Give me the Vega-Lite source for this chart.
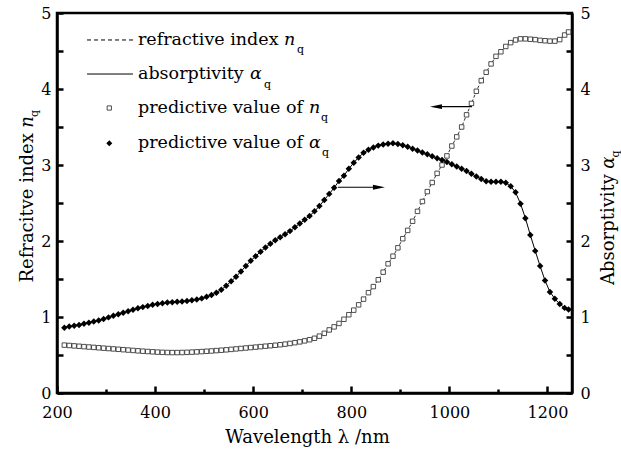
{
  "$schema": "https://vega.github.io/schema/vega-lite/v6.json",
  "width": 515,
  "height": 380,
  "autosize": "none",
  "padding": {"left": 57, "top": 13, "right": 49, "bottom": 56},
  "background": "white",
  "config": {
    "view": {"stroke": "black", "strokeWidth": 2.5},
    "font": "DejaVu Serif",
    "axis": {
      "grid": false,
      "domainColor": "black",
      "domainWidth": 2.5,
      "tickColor": "black",
      "tickWidth": 2.5,
      "labelColor": "black",
      "labelFont": "DejaVu Serif",
      "labelFontSize": 16,
      "labelOverlap": false,
      "labelFlush": false,
      "titleFont": "DejaVu Serif",
      "titleFontWeight": "normal",
      "titleColor": "black"
    }
  },
  "datasets": {
    "n": [
      {"wl": 215, "n": 0.63}, {"wl": 225, "n": 0.625}, {"wl": 235, "n": 0.62}, {"wl": 245, "n": 0.615},
      {"wl": 255, "n": 0.61}, {"wl": 265, "n": 0.605}, {"wl": 275, "n": 0.6}, {"wl": 285, "n": 0.595},
      {"wl": 295, "n": 0.59}, {"wl": 305, "n": 0.585}, {"wl": 315, "n": 0.58}, {"wl": 325, "n": 0.575},
      {"wl": 335, "n": 0.57}, {"wl": 345, "n": 0.565}, {"wl": 355, "n": 0.56}, {"wl": 365, "n": 0.555},
      {"wl": 375, "n": 0.55}, {"wl": 385, "n": 0.546}, {"wl": 395, "n": 0.542}, {"wl": 405, "n": 0.538},
      {"wl": 415, "n": 0.535}, {"wl": 425, "n": 0.533}, {"wl": 435, "n": 0.532}, {"wl": 445, "n": 0.532},
      {"wl": 455, "n": 0.533}, {"wl": 465, "n": 0.535}, {"wl": 475, "n": 0.538}, {"wl": 485, "n": 0.541},
      {"wl": 495, "n": 0.545}, {"wl": 505, "n": 0.549}, {"wl": 515, "n": 0.553}, {"wl": 525, "n": 0.558},
      {"wl": 535, "n": 0.563}, {"wl": 545, "n": 0.568}, {"wl": 555, "n": 0.574}, {"wl": 565, "n": 0.58},
      {"wl": 575, "n": 0.586}, {"wl": 585, "n": 0.592}, {"wl": 595, "n": 0.598}, {"wl": 605, "n": 0.604},
      {"wl": 615, "n": 0.61}, {"wl": 625, "n": 0.616}, {"wl": 635, "n": 0.622}, {"wl": 645, "n": 0.628},
      {"wl": 655, "n": 0.635}, {"wl": 665, "n": 0.643}, {"wl": 675, "n": 0.652}, {"wl": 685, "n": 0.662},
      {"wl": 695, "n": 0.673}, {"wl": 705, "n": 0.686}, {"wl": 715, "n": 0.701}, {"wl": 725, "n": 0.72},
      {"wl": 735, "n": 0.748}, {"wl": 745, "n": 0.785}, {"wl": 755, "n": 0.83}, {"wl": 765, "n": 0.87},
      {"wl": 775, "n": 0.915}, {"wl": 785, "n": 0.97}, {"wl": 795, "n": 1.03}, {"wl": 805, "n": 1.09},
      {"wl": 815, "n": 1.16}, {"wl": 825, "n": 1.235}, {"wl": 835, "n": 1.32}, {"wl": 845, "n": 1.4},
      {"wl": 855, "n": 1.49}, {"wl": 865, "n": 1.59}, {"wl": 875, "n": 1.7}, {"wl": 885, "n": 1.8},
      {"wl": 895, "n": 1.91}, {"wl": 905, "n": 2.03}, {"wl": 915, "n": 2.14}, {"wl": 925, "n": 2.26},
      {"wl": 935, "n": 2.39}, {"wl": 945, "n": 2.52}, {"wl": 955, "n": 2.65}, {"wl": 965, "n": 2.77},
      {"wl": 975, "n": 2.89}, {"wl": 985, "n": 3.0}, {"wl": 995, "n": 3.12}, {"wl": 1005, "n": 3.25},
      {"wl": 1015, "n": 3.37}, {"wl": 1025, "n": 3.5}, {"wl": 1035, "n": 3.66}, {"wl": 1045, "n": 3.81},
      {"wl": 1055, "n": 3.97}, {"wl": 1065, "n": 4.11}, {"wl": 1075, "n": 4.22}, {"wl": 1085, "n": 4.33},
      {"wl": 1095, "n": 4.43}, {"wl": 1105, "n": 4.49}, {"wl": 1115, "n": 4.56}, {"wl": 1125, "n": 4.61},
      {"wl": 1135, "n": 4.645}, {"wl": 1145, "n": 4.66}, {"wl": 1155, "n": 4.66}, {"wl": 1165, "n": 4.655},
      {"wl": 1175, "n": 4.65}, {"wl": 1185, "n": 4.64}, {"wl": 1195, "n": 4.635}, {"wl": 1205, "n": 4.63},
      {"wl": 1215, "n": 4.63}, {"wl": 1225, "n": 4.65}, {"wl": 1235, "n": 4.71}, {"wl": 1243, "n": 4.75}
    ],
    "a": [
      {"wl": 215, "a": 0.86}, {"wl": 225, "a": 0.875}, {"wl": 235, "a": 0.885}, {"wl": 245, "a": 0.895},
      {"wl": 255, "a": 0.91}, {"wl": 265, "a": 0.925}, {"wl": 275, "a": 0.94}, {"wl": 285, "a": 0.955},
      {"wl": 295, "a": 0.975}, {"wl": 305, "a": 0.995}, {"wl": 315, "a": 1.015}, {"wl": 325, "a": 1.035},
      {"wl": 335, "a": 1.055}, {"wl": 345, "a": 1.075}, {"wl": 355, "a": 1.095}, {"wl": 365, "a": 1.115},
      {"wl": 375, "a": 1.13}, {"wl": 385, "a": 1.145}, {"wl": 395, "a": 1.16}, {"wl": 405, "a": 1.17},
      {"wl": 415, "a": 1.18}, {"wl": 425, "a": 1.19}, {"wl": 435, "a": 1.195}, {"wl": 445, "a": 1.2},
      {"wl": 455, "a": 1.205}, {"wl": 465, "a": 1.21}, {"wl": 475, "a": 1.22}, {"wl": 485, "a": 1.23},
      {"wl": 495, "a": 1.245}, {"wl": 505, "a": 1.265}, {"wl": 515, "a": 1.29}, {"wl": 525, "a": 1.32},
      {"wl": 535, "a": 1.36}, {"wl": 545, "a": 1.41}, {"wl": 555, "a": 1.47}, {"wl": 565, "a": 1.53},
      {"wl": 575, "a": 1.6}, {"wl": 585, "a": 1.67}, {"wl": 595, "a": 1.74}, {"wl": 605, "a": 1.8},
      {"wl": 615, "a": 1.86}, {"wl": 625, "a": 1.915}, {"wl": 635, "a": 1.965}, {"wl": 645, "a": 2.01},
      {"wl": 655, "a": 2.05}, {"wl": 665, "a": 2.09}, {"wl": 675, "a": 2.13}, {"wl": 685, "a": 2.18},
      {"wl": 695, "a": 2.23}, {"wl": 705, "a": 2.28}, {"wl": 715, "a": 2.33}, {"wl": 725, "a": 2.39},
      {"wl": 735, "a": 2.46}, {"wl": 745, "a": 2.54}, {"wl": 755, "a": 2.62}, {"wl": 765, "a": 2.7},
      {"wl": 775, "a": 2.79}, {"wl": 785, "a": 2.86}, {"wl": 795, "a": 2.95}, {"wl": 805, "a": 3.03},
      {"wl": 815, "a": 3.1}, {"wl": 825, "a": 3.16}, {"wl": 835, "a": 3.2}, {"wl": 845, "a": 3.23},
      {"wl": 855, "a": 3.255}, {"wl": 865, "a": 3.27}, {"wl": 875, "a": 3.28}, {"wl": 885, "a": 3.285},
      {"wl": 895, "a": 3.275}, {"wl": 905, "a": 3.26}, {"wl": 915, "a": 3.24}, {"wl": 925, "a": 3.215},
      {"wl": 935, "a": 3.19}, {"wl": 945, "a": 3.165}, {"wl": 955, "a": 3.14}, {"wl": 965, "a": 3.115},
      {"wl": 975, "a": 3.09}, {"wl": 985, "a": 3.065}, {"wl": 995, "a": 3.04}, {"wl": 1005, "a": 3.01},
      {"wl": 1015, "a": 2.98}, {"wl": 1025, "a": 2.95}, {"wl": 1035, "a": 2.92}, {"wl": 1045, "a": 2.885},
      {"wl": 1055, "a": 2.85}, {"wl": 1065, "a": 2.815}, {"wl": 1075, "a": 2.785}, {"wl": 1085, "a": 2.78},
      {"wl": 1095, "a": 2.78}, {"wl": 1105, "a": 2.78}, {"wl": 1115, "a": 2.765}, {"wl": 1125, "a": 2.72},
      {"wl": 1135, "a": 2.64}, {"wl": 1145, "a": 2.49}, {"wl": 1155, "a": 2.3}, {"wl": 1165, "a": 2.08},
      {"wl": 1175, "a": 1.87}, {"wl": 1185, "a": 1.67}, {"wl": 1195, "a": 1.48}, {"wl": 1205, "a": 1.33},
      {"wl": 1215, "a": 1.24}, {"wl": 1225, "a": 1.17}, {"wl": 1235, "a": 1.12}, {"wl": 1243, "a": 1.1}
    ],
    "legendLines": [
      {"x": 261.2, "x2": 355, "y": 4.645, "kind": "dashed"},
      {"x": 261.2, "x2": 355, "y": 4.197, "kind": "solid"}
    ],
    "legendSymbols": [
      {"x": 306.6, "y": 3.75, "kind": "square"},
      {"x": 306.6, "y": 3.285, "kind": "diamond"}
    ],
    "arrows": [
      {"x": 972.6, "x2": 1046, "y": 3.767, "dir": "left"},
      {"x": 772.9, "x2": 856.4, "y": 2.707, "dir": "right"}
    ],
    "notes": [
      {"x": 365.1, "y": 4.645, "t": "refractive index", "k": "leg"},
      {"x": 662.8, "y": 4.645, "t": "n", "k": "legi"},
      {"x": 689.3, "y": 4.513, "t": "q", "k": "legs"},
      {"x": 365.1, "y": 4.197, "t": "absorptivity", "k": "leg"},
      {"x": 593.5, "y": 4.197, "t": "α", "k": "legi"},
      {"x": 622, "y": 4.053, "t": "q", "k": "legs"},
      {"x": 365.1, "y": 3.75, "t": "predictive value of", "k": "leg"},
      {"x": 713.8, "y": 3.75, "t": "n", "k": "legi"},
      {"x": 738.2, "y": 3.618, "t": "q", "k": "legs"},
      {"x": 365.1, "y": 3.285, "t": "predictive value of", "k": "leg"},
      {"x": 713.8, "y": 3.285, "t": "α", "k": "legi"},
      {"x": 740.2, "y": 3.158, "t": "q", "k": "legs"},
      {"x": 140.9, "y": 3.42, "t": "Refracitve index", "k": "ytl"},
      {"x": 140.9, "y": 3.49, "t": "n", "k": "yti"},
      {"x": 155.1, "y": 3.63, "t": "q", "k": "yts"},
      {"x": 1325.4, "y": 2.882, "t": "Absorptivity", "k": "ytl"},
      {"x": 1325.4, "y": 2.95, "t": "α", "k": "yti"},
      {"x": 1339.7, "y": 3.1, "t": "q", "k": "yts"}
    ]
  },
  "resolve": {"axis": {"x": "independent", "y": "independent"}},
  "layer": [
    {
      "data": {"name": "n"},
      "mark": {"type": "line", "color": "black", "strokeWidth": 0.8, "strokeDash": [3, 2]},
      "encoding": {
        "x": {
          "field": "wl", "type": "quantitative",
          "scale": {"domain": [200, 1250], "nice": false, "zero": false},
          "axis": {
            "orient": "bottom",
            "values": [200, 400, 600, 800, 1000, 1200],
            "format": "d",
            "tickSize": -7,
            "labelPadding": 18,
            "title": "Wavelength λ /nm",
            "titleFontSize": 18,
            "titlePadding": 8,
            "titleX": 250
          }
        },
        "y": {
          "field": "n", "type": "quantitative",
          "scale": {"domain": [0, 5], "nice": false},
          "axis": {
            "orient": "left",
            "values": [0, 1, 2, 3, 4, 5],
            "format": "d",
            "tickSize": -6,
            "labelPadding": 12,
            "title": null
          }
        }
      }
    },
    {
      "data": {"name": "n"},
      "mark": {"type": "point", "shape": "square", "size": 20, "fill": "white", "fillOpacity": 1, "stroke": "#3a3a3a", "strokeWidth": 0.9, "opacity": 1},
      "encoding": {
        "x": {
          "field": "wl", "type": "quantitative",
          "scale": {"domain": [200, 1250], "nice": false, "zero": false},
          "axis": {"orient": "bottom", "values": [300, 500, 700, 900, 1100], "tickSize": -4, "labels": false, "domain": false, "title": null}
        },
        "y": {
          "field": "n", "type": "quantitative",
          "scale": {"domain": [0, 5], "nice": false},
          "axis": {"orient": "left", "values": [0.5, 1.5, 2.5, 3.5, 4.5], "tickSize": -6, "labels": false, "domain": false, "title": null}
        }
      }
    },
    {
      "data": {"name": "a"},
      "mark": {"type": "line", "color": "black", "strokeWidth": 1},
      "encoding": {
        "x": {"field": "wl", "type": "quantitative", "scale": {"domain": [200, 1250], "nice": false, "zero": false}, "axis": null},
        "y": {
          "field": "a", "type": "quantitative",
          "scale": {"domain": [0, 5], "nice": false},
          "axis": {
            "orient": "right",
            "values": [0, 1, 2, 3, 4, 5],
            "format": "d",
            "tickSize": -6,
            "labelPadding": 14,
            "title": null
          }
        }
      }
    },
    {
      "data": {"name": "a"},
      "mark": {"type": "point", "shape": "diamond", "size": 42, "filled": true, "color": "black", "opacity": 1},
      "encoding": {
        "x": {"field": "wl", "type": "quantitative", "scale": {"domain": [200, 1250], "nice": false, "zero": false}, "axis": null},
        "y": {
          "field": "a", "type": "quantitative",
          "scale": {"domain": [0, 5], "nice": false},
          "axis": {"orient": "right", "values": [0.5, 1.5, 2.5, 3.5, 4.5], "tickSize": -6, "labels": false, "domain": false, "title": null}
        }
      }
    },
    {
      "data": {"name": "legendLines"},
      "transform": [{"filter": "datum.kind === 'dashed'"}],
      "mark": {"type": "rule", "color": "black", "strokeWidth": 1, "strokeDash": [4, 3]},
      "encoding": {
        "x": {"field": "x", "type": "quantitative", "scale": {"domain": [200, 1250], "nice": false, "zero": false}, "axis": null},
        "x2": {"field": "x2"},
        "y": {"field": "y", "type": "quantitative", "scale": {"domain": [0, 5], "nice": false}, "axis": null}
      }
    },
    {
      "data": {"name": "legendLines"},
      "transform": [{"filter": "datum.kind === 'solid'"}],
      "mark": {"type": "rule", "color": "black", "strokeWidth": 1},
      "encoding": {
        "x": {"field": "x", "type": "quantitative", "scale": {"domain": [200, 1250], "nice": false, "zero": false}, "axis": null},
        "x2": {"field": "x2"},
        "y": {"field": "y", "type": "quantitative", "scale": {"domain": [0, 5], "nice": false}, "axis": null}
      }
    },
    {
      "data": {"name": "legendSymbols"},
      "transform": [{"filter": "datum.kind === 'square'"}],
      "mark": {"type": "point", "shape": "square", "size": 18, "fill": "white", "fillOpacity": 1, "stroke": "#3a3a3a", "strokeWidth": 0.9, "opacity": 1},
      "encoding": {
        "x": {"field": "x", "type": "quantitative", "scale": {"domain": [200, 1250], "nice": false, "zero": false}, "axis": null},
        "y": {"field": "y", "type": "quantitative", "scale": {"domain": [0, 5], "nice": false}, "axis": null}
      }
    },
    {
      "data": {"name": "legendSymbols"},
      "transform": [{"filter": "datum.kind === 'diamond'"}],
      "mark": {"type": "point", "shape": "diamond", "size": 36, "filled": true, "color": "black", "opacity": 1},
      "encoding": {
        "x": {"field": "x", "type": "quantitative", "scale": {"domain": [200, 1250], "nice": false, "zero": false}, "axis": null},
        "y": {"field": "y", "type": "quantitative", "scale": {"domain": [0, 5], "nice": false}, "axis": null}
      }
    },
    {
      "data": {"name": "arrows"},
      "mark": {"type": "rule", "color": "black", "strokeWidth": 1.2},
      "encoding": {
        "x": {"field": "x", "type": "quantitative", "scale": {"domain": [200, 1250], "nice": false, "zero": false}, "axis": null},
        "x2": {"field": "x2"},
        "y": {"field": "y", "type": "quantitative", "scale": {"domain": [0, 5], "nice": false}, "axis": null}
      }
    },
    {
      "data": {"name": "arrows"},
      "transform": [{"filter": "datum.dir === 'left'"}],
      "mark": {"type": "point", "shape": "M -1 0 L 1 -0.4 L 1 0.4 Z", "size": 144, "filled": true, "color": "black", "opacity": 1},
      "encoding": {
        "x": {"field": "x", "type": "quantitative", "scale": {"domain": [200, 1250], "nice": false, "zero": false}, "axis": null},
        "y": {"field": "y", "type": "quantitative", "scale": {"domain": [0, 5], "nice": false}, "axis": null}
      }
    },
    {
      "data": {"name": "arrows"},
      "transform": [{"filter": "datum.dir === 'right'"}],
      "mark": {"type": "point", "shape": "M 1 0 L -1 -0.4 L -1 0.4 Z", "size": 144, "filled": true, "color": "black", "opacity": 1},
      "encoding": {
        "x": {"field": "x2", "type": "quantitative", "scale": {"domain": [200, 1250], "nice": false, "zero": false}, "axis": null},
        "y": {"field": "y", "type": "quantitative", "scale": {"domain": [0, 5], "nice": false}, "axis": null}
      }
    },
    {
      "data": {"name": "notes"},
      "transform": [{"filter": "datum.k === 'leg'"}],
      "mark": {"type": "text", "font": "DejaVu Serif", "fontSize": 17.5, "align": "left", "baseline": "middle", "color": "black"},
      "encoding": {
        "x": {"field": "x", "type": "quantitative", "scale": {"domain": [200, 1250], "nice": false, "zero": false}, "axis": null},
        "y": {"field": "y", "type": "quantitative", "scale": {"domain": [0, 5], "nice": false}, "axis": null},
        "text": {"field": "t"}
      }
    },
    {
      "data": {"name": "notes"},
      "transform": [{"filter": "datum.k === 'legi'"}],
      "mark": {"type": "text", "font": "DejaVu Serif", "fontSize": 17.5, "fontStyle": "italic", "align": "left", "baseline": "middle", "color": "black"},
      "encoding": {
        "x": {"field": "x", "type": "quantitative", "scale": {"domain": [200, 1250], "nice": false, "zero": false}, "axis": null},
        "y": {"field": "y", "type": "quantitative", "scale": {"domain": [0, 5], "nice": false}, "axis": null},
        "text": {"field": "t"}
      }
    },
    {
      "data": {"name": "notes"},
      "transform": [{"filter": "datum.k === 'legs'"}],
      "mark": {"type": "text", "font": "DejaVu Serif", "fontSize": 11, "align": "left", "baseline": "middle", "color": "black"},
      "encoding": {
        "x": {"field": "x", "type": "quantitative", "scale": {"domain": [200, 1250], "nice": false, "zero": false}, "axis": null},
        "y": {"field": "y", "type": "quantitative", "scale": {"domain": [0, 5], "nice": false}, "axis": null},
        "text": {"field": "t"}
      }
    },
    {
      "data": {"name": "notes"},
      "transform": [{"filter": "datum.k === 'ytl'"}],
      "mark": {"type": "text", "font": "DejaVu Serif", "fontSize": 18, "angle": -90, "align": "right", "baseline": "middle", "color": "black"},
      "encoding": {
        "x": {"field": "x", "type": "quantitative", "scale": {"domain": [200, 1250], "nice": false, "zero": false}, "axis": null},
        "y": {"field": "y", "type": "quantitative", "scale": {"domain": [0, 5], "nice": false}, "axis": null},
        "text": {"field": "t"}
      }
    },
    {
      "data": {"name": "notes"},
      "transform": [{"filter": "datum.k === 'yti'"}],
      "mark": {"type": "text", "font": "DejaVu Serif", "fontSize": 18, "fontStyle": "italic", "angle": -90, "align": "left", "baseline": "middle", "color": "black"},
      "encoding": {
        "x": {"field": "x", "type": "quantitative", "scale": {"domain": [200, 1250], "nice": false, "zero": false}, "axis": null},
        "y": {"field": "y", "type": "quantitative", "scale": {"domain": [0, 5], "nice": false}, "axis": null},
        "text": {"field": "t"}
      }
    },
    {
      "data": {"name": "notes"},
      "transform": [{"filter": "datum.k === 'yts'"}],
      "mark": {"type": "text", "font": "DejaVu Serif", "fontSize": 11, "angle": -90, "align": "left", "baseline": "middle", "color": "black"},
      "encoding": {
        "x": {"field": "x", "type": "quantitative", "scale": {"domain": [200, 1250], "nice": false, "zero": false}, "axis": null},
        "y": {"field": "y", "type": "quantitative", "scale": {"domain": [0, 5], "nice": false}, "axis": null},
        "text": {"field": "t"}
      }
    }
  ]
}
